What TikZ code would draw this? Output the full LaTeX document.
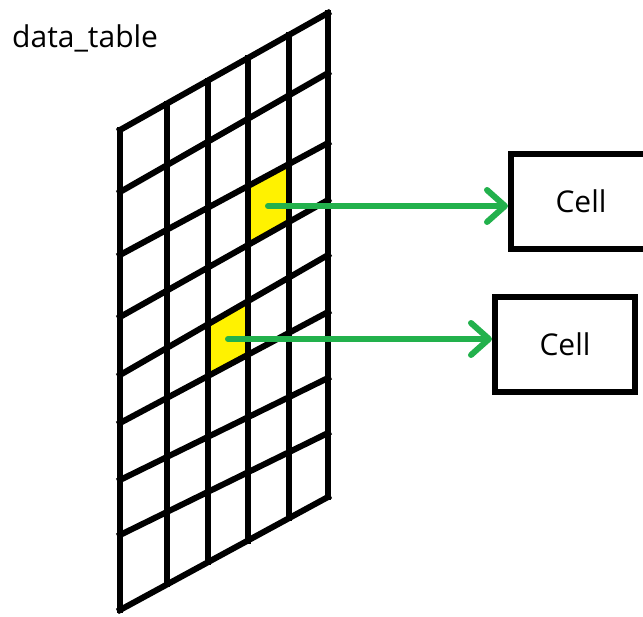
\documentclass[tikz,border=0pt]{standalone}
\usepackage{fontspec}
\setmainfont{Open Sans}
\usetikzlibrary{arrows.meta,calc}
\definecolor{pgreen}{HTML}{22B14C}
\definecolor{pyellow}{HTML}{FFF200}
\begin{document}
\begin{tikzpicture}[x=1pt,y=-1pt,
  gridline/.style={line width=6pt, line cap=rect},
  cellbox/.style={draw, line width=6pt, minimum width=140pt, minimum height=95pt, inner sep=0pt, font=\fontsize{30}{36}\selectfont},
  label/.style={font=\fontsize{30}{36}\selectfont, inner sep=0pt},
  link/.style={pgreen, line width=6pt, line cap=round, -{Straight Barb[length=18pt,width=32pt,round]}},
  hl/.style={fill=pyellow}]
\useasboundingbox (0,0) rectangle (643,617);
\foreach \i/\yl/\yr in {0/130/13,1/192/73,2/255/143,3/317/200,4/375/255,5/423/312,6/480/378,7/535/433,8/610/497}{
  \coordinate (L\i) at (120,\yl);
  \coordinate (R\i) at (328,\yr);
}
% highlighted cells
\fill[hl] ($(L2)!.615!(R2)$) -- ($(L2)!.8125!(R2)$) -- ($(L3)!.8125!(R3)$) -- ($(L3)!.615!(R3)$) -- cycle;
\fill[hl] ($(L4)!.423!(R4)$) -- ($(L4)!.615!(R4)$) -- ($(L5)!.615!(R5)$) -- ($(L5)!.423!(R5)$) -- cycle;
% grid
\foreach \i in {0,...,8} \draw[gridline] (L\i) -- (R\i);
\foreach \t in {0,.226,.423,.615,.8125,1} \draw[gridline] ($(L0)!\t!(R0)$) -- ($(L8)!\t!(R8)$);
% title
\node[label, anchor=base west] (title) at (12,48) {data\_table};
% boxes
\node[cellbox] (b1) at (581,201.5) {Cell};
\node[cellbox] (b2) at (565,344.5) {Cell};
% connectors
\coordinate (c1) at (268,206);
\coordinate (c2) at (228,339);
\draw[link] (c1) -- (c1 -| b1.west);
\draw[link] (c2) -- (c2 -| b2.west);
\end{tikzpicture}
\end{document}
